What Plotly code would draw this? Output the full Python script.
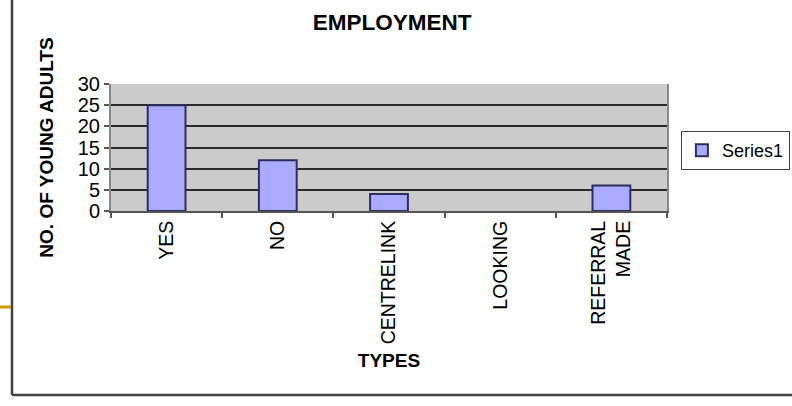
import plotly.graph_objects as go

categories = ["YES", "NO", "CENTRELINK", "LOOKING", "REFERRAL<br>MADE"]
values = [25, 12, 4, 0, 6]
series_name = "Series1"
y_ticks = [0, 5, 10, 15, 20, 25, 30]

FONT = "Liberation Sans, Arial, sans-serif"

fig = go.Figure()
fig.add_trace(go.Bar(
    x=categories, y=values, name=series_name,
    marker=dict(color="#AAAAFF",
                line=dict(color="#2E2E5C",
                          width=[2 if v > 0 else 0 for v in values])),
))

fig.update_layout(
    width=792, height=406,
    margin=dict(l=111, r=125, t=84, b=195, autoexpand=False),
    paper_bgcolor="white",
    plot_bgcolor="#CBCBCB",
    bargap=0.66,
    showlegend=True,
    font=dict(family=FONT, color="black", size=18),
    title=dict(text="<b>EMPLOYMENT</b>", x=0.495, xanchor="center",
               y=1 - 22 / 406, yanchor="middle", yref="container",
               font=dict(family=FONT, size=22.5, color="black")),
    legend=dict(x=1.025, xanchor="left", y=0.63, yanchor="top",
                bgcolor="white", bordercolor="#444444", borderwidth=1,
                font=dict(family=FONT, size=18, color="black"),
                itemwidth=30, tracegroupgap=0),
    xaxis=dict(
        type="category", tickangle=-90, tickson="boundaries",
        ticks="outside", ticklen=5, tickcolor="#555555", tickwidth=2,
        showline=True, linecolor="#555555", linewidth=2,
        showgrid=False, mirror=False,
        tickfont=dict(family=FONT, size=19.5, color="black"),
        title=dict(text="<b>TYPES</b>", standoff=10,
                   font=dict(family=FONT, size=19, color="black")),
    ),
    yaxis=dict(
        range=[0, 30], tickvals=y_ticks,
        ticks="outside", ticklen=5, tickcolor="#555555", tickwidth=2,
        showline=True, linecolor="#888888", linewidth=2, mirror=True,
        showgrid=True, gridcolor="#2A2A2A", gridwidth=2,
        zeroline=False,
        tickfont=dict(family=FONT, size=20, color="black"),
        title=dict(text="<b>NO. OF YOUNG ADULTS</b>", standoff=19,
                   font=dict(family=FONT, size=19, color="black")),
    ),
)

# page frame lines (left and bottom edges) and small orange mark
fig.add_shape(type="line", xref="paper", yref="paper",
              x0=(12 - 111) / 556, x1=(12 - 111) / 556,
              y0=(211 - 0) / 127, y1=(211 - 395) / 127,
              line=dict(color="#444444", width=2.5))
fig.add_shape(type="line", xref="paper", yref="paper",
              x0=(12 - 111) / 556, x1=(792 - 111) / 556,
              y0=(211 - 395) / 127, y1=(211 - 395) / 127,
              line=dict(color="#444444", width=2.5))
fig.add_shape(type="line", xref="paper", yref="paper",
              x0=(0 - 111) / 556, x1=(11 - 111) / 556,
              y0=(211 - 307) / 127, y1=(211 - 307) / 127,
              line=dict(color="#CC9900", width=3))

fig.write_html("out.html",
               config={"displayModeBar": False},
               post_script="document.body.style.margin='0px';document.body.style.overflow='hidden';")
